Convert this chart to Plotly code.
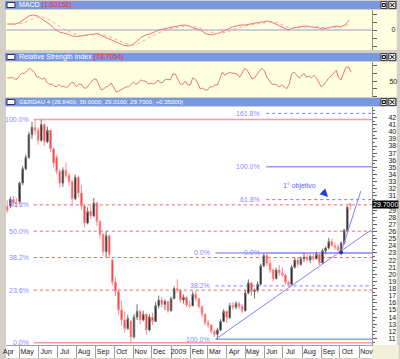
import plotly.graph_objects as go
import pandas as pd

# ---------------- data ----------------
bar_dates = pd.date_range("2008-04-11", periods=112, freq="5D")
opens = [29.5, 29.6, 30.5, 30.0, 30.2, 32.8, 34.8, 36.4, 39.6, 40.6,
         40.2, 38.8, 41.0, 38.6, 40.2, 37.6, 36.4, 34.4, 32.8, 34.6,
         33.9, 33.0, 30.6, 33.6, 31.4, 29.6, 27.2, 28.8, 28.2, 30.0,
         27.4, 25.6, 23.2, 25.4, 22.0, 18.9, 17.6, 15.0, 13.6, 12.4,
         13.4, 11.2, 14.0, 14.8, 13.6, 14.4, 12.2, 14.0, 13.4, 15.6,
         16.4, 15.8, 16.2, 14.9, 16.6, 18.0, 17.8, 16.4, 16.8, 15.7,
         15.6, 17.2, 16.6, 15.5, 14.4, 13.2, 12.9, 12.0, 11.6, 12.2,
         13.4, 14.8, 13.9, 15.6, 15.4, 15.9, 15.5, 14.9, 17.4, 18.8,
         17.6, 17.8, 18.6, 21.2, 22.6, 21.6, 20.6, 19.4, 20.6, 20.2,
         19.9, 18.9, 18.6, 21.0, 22.0, 21.4, 22.2, 22.4, 22.0, 22.5,
         22.2, 22.8, 21.6, 23.3, 23.7, 24.6, 24.0, 23.8, 23.4, 24.4,
         26.2, 29.84]
highs = [30.4, 30.9, 31.0, 30.7, 33.0, 35.2, 36.8, 40.0, 41.4, 41.7,
         40.6, 41.7, 41.2, 40.7, 40.3, 37.8, 36.8, 34.8, 35.0, 35.7,
         34.2, 33.3, 34.0, 33.8, 32.5, 29.8, 29.4, 29.6, 30.7, 30.2,
         27.6, 25.8, 26.1, 25.6, 22.2, 19.6, 17.8, 16.3, 14.8, 14.3,
         13.6, 14.4, 15.8, 15.0, 14.9, 14.5, 14.4, 14.6, 16.1, 17.0,
         16.8, 16.5, 16.3, 16.9, 18.3, 19.3, 18.0, 17.2, 16.9, 16.3,
         17.6, 17.7, 16.7, 15.6, 14.5, 13.6, 13.0, 12.3, 12.5, 13.7,
         15.1, 14.9, 16.0, 16.1, 16.2, 16.2, 15.8, 17.8, 19.3, 18.9,
         18.0, 19.0, 21.5, 23.0, 23.1, 22.2, 20.8, 20.9, 21.3, 21.0,
         20.1, 19.1, 21.3, 22.4, 22.3, 22.5, 23.0, 23.1, 22.8, 23.0,
         23.2, 22.9, 23.6, 23.9, 25.1, 25.0, 24.5, 24.2, 24.6, 26.4,
         29.6, 30.0]
lows = [28.6, 29.3, 29.6, 29.4, 29.9, 32.5, 34.6, 36.2, 39.0, 39.6,
        38.2, 38.6, 38.0, 38.4, 37.2, 35.0, 34.0, 32.2, 32.3, 33.5,
        32.4, 29.5, 30.4, 30.8, 29.0, 26.6, 27.0, 27.8, 28.0, 26.8,
        25.0, 22.6, 22.4, 22.3, 18.4, 17.0, 14.4, 12.8, 11.8, 12.2,
        10.4, 11.0, 13.6, 13.0, 13.4, 11.5, 12.0, 12.9, 13.3, 15.2,
        15.3, 15.0, 14.6, 14.8, 16.5, 17.4, 16.0, 15.9, 15.4, 15.3,
        15.5, 16.2, 15.2, 14.0, 12.8, 12.5, 11.7, 11.2, 10.9, 12.0,
        13.3, 13.2, 13.8, 15.0, 15.1, 15.1, 14.6, 14.8, 17.2, 17.0,
        16.6, 17.5, 18.5, 21.0, 21.2, 20.2, 19.0, 19.3, 19.8, 19.6,
        18.6, 18.3, 18.5, 20.8, 21.0, 21.2, 21.7, 21.8, 21.6, 21.9,
        22.0, 21.3, 21.5, 22.8, 23.5, 23.9, 23.4, 23.0, 22.7, 24.2,
        26.0, 29.01]
closes = [29.0, 30.5, 30.0, 29.9, 32.8, 34.8, 36.4, 39.6, 40.6, 40.2,
          38.8, 41.0, 38.6, 40.2, 37.6, 35.6, 34.4, 32.8, 34.6, 33.9,
          33.0, 30.6, 33.6, 31.4, 29.6, 27.2, 28.8, 28.2, 30.0, 27.4,
          25.6, 23.2, 25.4, 22.8, 18.9, 17.6, 15.0, 13.6, 12.4, 13.8,
          11.2, 14.0, 14.8, 13.6, 14.4, 12.2, 14.0, 13.4, 15.6, 16.4,
          15.8, 16.2, 14.9, 16.6, 18.0, 17.8, 16.4, 16.8, 15.7, 15.6,
          17.2, 16.6, 15.5, 14.4, 13.2, 12.9, 12.0, 11.6, 12.2, 13.4,
          14.8, 13.9, 15.6, 15.4, 15.9, 15.5, 14.9, 17.4, 18.8, 17.6,
          17.8, 18.6, 21.2, 22.6, 21.6, 20.6, 19.4, 20.6, 20.2, 19.9,
          18.9, 18.6, 21.0, 22.0, 21.4, 22.2, 22.4, 22.0, 22.5, 22.2,
          22.8, 21.6, 23.3, 23.7, 24.6, 24.0, 23.8, 23.4, 24.4, 26.2,
          29.4, 29.70]

macd_dates = pd.date_range("2008-04-11", periods=80, freq="7D")
macd_vals = [0.96, 0.96, 0.96, 1.28, 1.76, 2.24, 2.40, 2.24, 1.76, 1.28,
             0.80, 0.16, -0.32, -0.48, -0.64, -0.96, -1.04, -0.96, -0.80, -0.72,
             -0.64, -0.56, -0.96, -1.28, -1.60, -1.92, -2.24, -2.48, -2.56, -2.32,
             -1.76, -1.12, -0.80, -0.64, -0.32, 0.00, 0.16, 0.32, 0.48, 0.64,
             0.72, 0.80, 0.64, 0.32, 0.16, -0.16, -0.64, -0.80, -0.64, -0.48,
             -0.16, 0.16, 0.48, 0.64, 0.80, 0.80, 0.96, 1.04, 1.20, 1.28,
             1.44, 1.28, 0.96, 0.64, 0.32, 0.00, 0.32, 0.48, 0.56, 0.64,
             0.56, 0.48, 0.32, 0.16, 0.32, 0.48, 0.64, 0.48, 0.80, 1.60]
signal_vals = [0.90, 0.93, 0.95, 1.02, 1.20, 1.50, 1.85, 2.10, 2.10, 1.90,
               1.55, 1.10, 0.60, 0.20, -0.15, -0.45, -0.75, -0.90, -0.92, -0.85,
               -0.76, -0.68, -0.72, -0.90, -1.15, -1.45, -1.75, -2.05, -2.30, -2.40,
               -2.25, -1.90, -1.50, -1.15, -0.80, -0.45, -0.15, 0.05, 0.22, 0.38,
               0.52, 0.64, 0.68, 0.60, 0.45, 0.22, -0.08, -0.38, -0.55, -0.58,
               -0.48, -0.28, 0.00, 0.25, 0.48, 0.64, 0.78, 0.90, 1.02, 1.12,
               1.25, 1.30, 1.20, 1.00, 0.72, 0.42, 0.30, 0.34, 0.42, 0.50,
               0.54, 0.53, 0.46, 0.36, 0.32, 0.36, 0.45, 0.50, 0.60, 0.95]

rsi_dates = pd.date_range("2008-04-11", periods=140, freq="4D")
rsi_vals = [58, 58, 60, 55, 55, 65, 70, 70, 76, 83,
            78, 73, 60, 60, 55, 58, 47, 42, 42, 37,
            35, 42, 35, 37, 32, 40, 47, 45, 35, 42,
            42, 32, 32, 40, 47, 55, 55, 42, 27, 30,
            35, 37, 45, 35, 22, 24, 27, 32, 35, 35,
            42, 47, 42, 45, 53, 50, 50, 42, 45, 42,
            45, 53, 45, 47, 55, 53, 53, 68, 68, 55,
            42, 42, 50, 40, 40, 58, 55, 45, 30, 32,
            27, 27, 35, 35, 40, 40, 58, 73, 65, 68,
            73, 70, 70, 68, 60, 70, 83, 78, 65, 55,
            58, 68, 76, 83, 76, 60, 50, 42, 42, 40,
            35, 40, 35, 30, 42, 68, 73, 65, 58, 63,
            70, 60, 63, 58, 65, 58, 45, 35, 40, 50,
            58, 63, 70, 78, 58, 53, 70, 86, 86, 73.7]

month_starts = pd.date_range("2008-04-01", "2009-11-01", freq="MS")
month_labels = ["Apr", "May", "Jun", "Jul", "Aug", "Sep", "Oct", "Nov", "Dec", "2009",
                "Feb", "Mar", "Apr", "May", "Jun", "Jul", "Aug", "Sep", "Oct", "Nov"]
price_ticks = list(range(11, 43))
hidden_tick = 30          # covered by the last-price box in the reference

# drawing tools (Fibonacci sets and trend lines)
fib1_start, fib1_low, fib1_high = "2008-05-24", 10.4, 41.7
fib1_levels = [0.0, 0.236, 0.382, 0.5, 0.618, 1.0]
fib2_start, fib2_low, fib2_high = "2009-03-14", 10.9, 23.0
fib2_levels = [0.0, 0.382, 1.0]
fib3_start = "2009-06-04"
fib3_levels = [0.0, 0.618, 1.0, 1.618]
trend1_dates, trend1_prices = ["2009-03-14", "2009-11-20"], [10.9, 26.2]
trend2_dates, trend2_prices = ["2009-10-03", "2009-11-04"], [23.1, 31.7]
pivot_date, pivot_price = ["2009-10-03"], [23.1]
note_date, note_price, note_text = "2009-07-28", 32.4, "1° objetivo"
arrow_date, arrow_price = "2009-09-12", 30.85
last_price = 29.70

x_range = ["2008-04-09", "2009-11-22"]

# ---------------- layout helpers (pixel -> paper) ----------------
PL, PR, PT, PB = 3, 373, 10, 345
def px(v):
    return (v - PL) / (PR - PL)
def py(v):
    return (PB - v) / (PB - PT)

FONT = "Liberation Sans"
BLUE_LBL = "#8a8aff"

fig = go.Figure()

fig.add_trace(go.Scatter(x=macd_dates, y=macd_vals, xaxis="x", yaxis="y", mode="lines",
                         line=dict(color="#f07474", width=1), hoverinfo="skip"))
fig.add_trace(go.Scatter(x=macd_dates, y=signal_vals, xaxis="x", yaxis="y", mode="lines",
                         line=dict(color="#ffa0a0", width=1, dash="dot"), hoverinfo="skip"))
fig.add_trace(go.Scatter(x=rsi_dates, y=rsi_vals, xaxis="x", yaxis="y2", mode="lines",
                         line=dict(color="#f07474", width=1), hoverinfo="skip"))
fig.add_trace(go.Candlestick(x=bar_dates, open=opens, high=highs, low=lows, close=closes,
                             xaxis="x", yaxis="y3", whiskerwidth=0,
                             increasing=dict(line=dict(color="#707070", width=1), fillcolor="#000000"),
                             decreasing=dict(line=dict(color="#ff8c8c", width=1), fillcolor="#ff1010"),
                             hoverinfo="skip"))
for d, p in ((trend1_dates, trend1_prices), (trend2_dates, trend2_prices)):
    fig.add_trace(go.Scatter(x=d, y=p, xaxis="x", yaxis="y3", mode="lines",
                             line=dict(color="#8080ff", width=1), hoverinfo="skip"))
fig.add_trace(go.Scatter(x=pivot_date, y=pivot_price, xaxis="x", yaxis="y3", mode="markers",
                         marker=dict(color="#2030b0", size=4), hoverinfo="skip"))

shapes = []
annotations = []

# panel backgrounds
for top, bot, col in ((10, 50, "#ffffe1"), (62, 97, "#ffffe1"), (107, 345, "#ffffff")):
    shapes.append(dict(type="rect", xref="paper", yref="paper", x0=px(3), x1=px(398),
                       y0=py(bot), y1=py(top), fillcolor=col, line=dict(width=0), layer="below"))
shapes.append(dict(type="rect", xref="paper", yref="paper", x0=px(3), x1=px(373),
                   y0=py(358), y1=py(345), fillcolor="#ffffff", line=dict(width=0), layer="below"))
shapes.append(dict(type="rect", xref="paper", yref="paper", x0=px(373), x1=px(400),
                   y0=py(359), y1=py(345), fillcolor="#f2eed8", line=dict(width=0), layer="below"))

# title bars
bars = [(1, 9, "MACD <span style='color:#ff2a2a'>(1.60158)</span>", 7),
        (53, 61, "Relative Strength Index <span style='color:#ff2a2a'>(73.7054)</span>", 7),
        (98, 106, "GERDAU 4 (29.8400, 30.0000, 29.0100, 29.7000, +0.35000)", 6.1)]
for t, b, txt, fs in bars:
    c = (t + b) / 2
    shapes.append(dict(type="rect", xref="paper", yref="paper", x0=px(2), x1=px(398),
                       y0=py(b), y1=py(t), fillcolor="#7898e0", line=dict(width=0), layer="above"))
    shapes.append(dict(type="rect", xref="paper", yref="paper", x0=px(4), x1=px(12),
                       y0=py(c + 2.5), y1=py(c - 2.5), fillcolor="#ffffff",
                       line=dict(color="#303050", width=1), layer="above"))
    for bx0, bx1 in ((382, 388), (390, 397)):
        shapes.append(dict(type="rect", xref="paper", yref="paper", x0=px(bx0), x1=px(bx1),
                           y0=py(c + 3.5), y1=py(c - 3.5), fillcolor="#ece9d8",
                           line=dict(color="#404040", width=1), layer="above"))
    shapes.append(dict(type="rect", xref="paper", yref="paper", x0=px(383.5), x1=px(386.5),
                       y0=py(c + 1.5), y1=py(c - 1.5), fillcolor="rgba(0,0,0,0)",
                       line=dict(color="#000000", width=1), layer="above"))
    for yy0, yy1 in ((c - 2, c + 2), (c + 2, c - 2)):
        shapes.append(dict(type="line", xref="paper", yref="paper", x0=px(391.5), x1=px(395.5),
                           y0=py(yy0), y1=py(yy1), line=dict(color="#000000", width=1), layer="above"))
    annotations.append(dict(xref="paper", yref="paper", x=px(14), y=py(c), xanchor="left",
                            yanchor="middle", text=txt, showarrow=False,
                            font=dict(family=FONT, size=fs, color="#ffffff")))

# Fibonacci sets
def fib_label(lvl):
    return f"{lvl * 100:.1f}%"

for lvl in fib1_levels:
    val = fib1_low + lvl * (fib1_high - fib1_low)
    solid = lvl in (0.0, 1.0)
    shapes.append(dict(type="line", xref="x", yref="y3", x0=fib1_start, x1=x_range[1], y0=val, y1=val,
                       line=dict(color="#ff9c9c" if solid else "#ff6060", width=1.5 if solid else 1,
                                 dash="solid" if solid else "dot"), layer="below"))
    annotations.append(dict(xref="x", yref="y3", x=fib1_start, y=val, xanchor="right", yanchor="middle",
                            xshift=-3, text=fib_label(lvl), showarrow=False,
                            font=dict(family=FONT, size=7, color=BLUE_LBL)))

for lvl in fib2_levels:
    val = fib2_high - lvl * (fib2_high - fib2_low)
    solid = lvl in (0.0, 1.0)
    shapes.append(dict(type="line", xref="x", yref="y3", x0=fib2_start, x1=x_range[1], y0=val, y1=val,
                       line=dict(color="#9c9cff" if solid else "#7878ff", width=1.5 if solid else 1,
                                 dash="solid" if solid else "dot"), layer="below"))
    annotations.append(dict(xref="x", yref="y3", x=fib2_start, y=val, xanchor="right", yanchor="middle",
                            xshift=-4, text=fib_label(lvl), showarrow=False,
                            font=dict(family=FONT, size=7, color=BLUE_LBL)))

for lvl in fib3_levels:
    val = fib2_high + lvl * (fib2_high - fib2_low)
    solid = lvl in (0.0, 1.0)
    shapes.append(dict(type="line", xref="x", yref="y3", x0=fib3_start, x1=x_range[1], y0=val, y1=val,
                       line=dict(color="#9c9cff" if solid else "#7878ff", width=1.5 if solid else 1,
                                 dash="solid" if solid else "dot"), layer="below"))
    annotations.append(dict(xref="x", yref="y3", x=fib3_start, y=val, xanchor="right", yanchor="middle",
                            xshift=-4, text=fib_label(lvl), showarrow=False,
                            font=dict(family=FONT, size=7, color=BLUE_LBL)))

annotations.append(dict(xref="x", yref="y3", x=note_date, y=note_price, text=note_text, showarrow=False,
                        font=dict(family=FONT, size=7, color="#6060ff")))
annotations.append(dict(xref="x", yref="y3", x=arrow_date, y=arrow_price, text="", showarrow=True,
                        ax=-7, ay=-7, arrowhead=2, arrowsize=0.8, arrowwidth=2, arrowcolor="#1e40e0"))
annotations.append(dict(xref="paper", yref="y3", x=1.0, y=last_price, xanchor="left", yanchor="middle",
                        yshift=1, text="29.7000", showarrow=False, bgcolor="#000000", borderpad=0,
                        font=dict(family=FONT, size=7, color="#ffffff")))

tickfont = dict(family=FONT, size=7, color="#202020")

fig.update_layout(
    width=400, height=359,
    margin=dict(l=3, r=27, t=10, b=14),
    paper_bgcolor="#d4d0c8", plot_bgcolor="rgba(0,0,0,0)",
    showlegend=False,
    xaxis=dict(type="date", range=x_range, anchor="y3", domain=[0, 1],
               tickmode="array",
               tickvals=[max(d + pd.Timedelta(days=12), pd.Timestamp(x_range[0]) + pd.Timedelta(hours=12))
                         for d in month_starts],
               ticktext=month_labels, ticks="", tickfont=tickfont,
               showgrid=False, zeroline=False, showline=True, linecolor="#a0a0a0",
               rangeslider=dict(visible=False),
               minor=dict(dtick="M1", tick0="2008-04-01", ticks="outside", ticklen=12,
                          tickcolor="#a0a0a0", tickwidth=1, showgrid=False)),
    yaxis=dict(domain=[py(50), 1], range=[-3.2, 3.2], side="right", anchor="x",
               tickmode="array", tickvals=[-2.56, -1.28, 0, 1.28, 2.56],
               ticktext=["", "", "0", "", ""], ticks="outside", ticklen=4, tickcolor="#606060",
               tickfont=tickfont, ticklabelstandoff=13, showgrid=False,
               zeroline=True, zerolinecolor="#cdcdd8", zerolinewidth=2,
               showline=True, linecolor="#909090"),
    yaxis2=dict(domain=[py(97), py(62)], range=[9, 99], side="right", anchor="x",
                tickmode="array", tickvals=[10, 30, 50, 70, 90],
                ticktext=["", "", "50", "", ""], ticks="outside", ticklen=4, tickcolor="#606060",
                tickfont=tickfont, ticklabelstandoff=11, showgrid=False, zeroline=False,
                showline=True, linecolor="#909090"),
    yaxis3=dict(domain=[0, py(107)], range=[10.09, 43.47], side="right", anchor="x",
                tickmode="array", tickvals=price_ticks,
                ticktext=["" if v == hidden_tick else str(v) for v in price_ticks],
                ticks="outside", ticklen=4,
                tickcolor="#606060", tickfont=tickfont, ticklabelstandoff=10,
                showgrid=False, zeroline=False, showline=True, linecolor="#909090",
                minor=dict(dtick=0.5, tick0=0, ticks="outside", ticklen=2, tickcolor="#606060")),
    shapes=shapes,
    annotations=annotations,
)

fig.write_html("out.html", config={"displayModeBar": False, "staticPlot": True},
               post_script="document.body.style.margin='0';document.body.style.overflow='hidden';")
